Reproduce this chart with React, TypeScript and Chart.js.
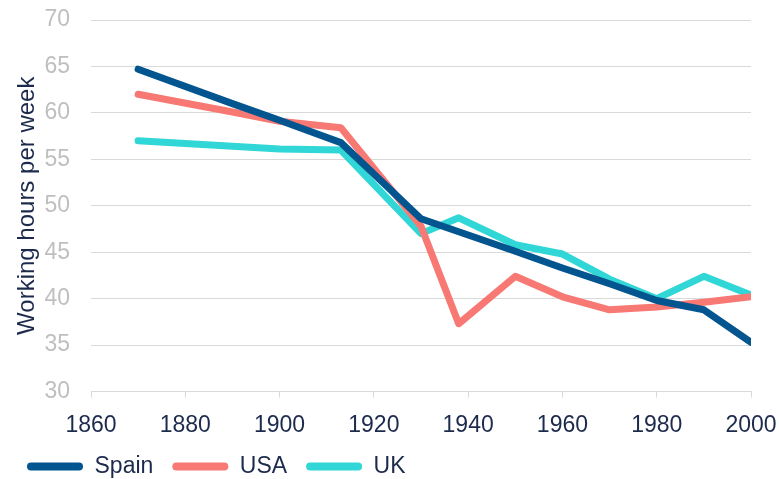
import React, { useEffect, useRef } from "react";
import { Chart, registerables } from "chart.js";

Chart.register(...registerables);

const years = [1870, 1890, 1900, 1913, 1930, 1938, 1950, 1960, 1970, 1980, 1990, 2000];
const spain = [64.7, 61.0, 59.2, 56.8, 48.6, 47.2, 45.1, 43.3, 41.6, 39.8, 38.8, 35.3];
const usa = [62.0, 60.1, 59.1, 58.4, 47.8, 37.3, 42.4, 40.2, 38.8, 39.1, 39.6, 40.2];
const uk = [57.0, 56.4, 56.1, 56.0, 47.0, 48.7, 45.8, 44.8, 42.1, 40.0, 42.4, 40.4];
const seriesNames = ["Spain", "USA", "UK"];
const seriesColors = ["#03558f", "#f87873", "#31d6d6"];

const FONT = "'Liberation Sans', Arial, sans-serif";
const NAVY = "#1c2a4c";

export default function App() {
  const ref = useRef<HTMLCanvasElement | null>(null);
  useEffect(() => {
    if (!ref.current) return;
    const seriesValues = [spain, usa, uk];
    const chart = new Chart(ref.current, {
      type: "line",
      data: {
        datasets: seriesNames.map((name, i) => ({
          label: name,
          data: years.map((y, j) => ({ x: y, y: seriesValues[i][j] })),
          borderColor: seriesColors[i],
          backgroundColor: seriesColors[i],
          borderWidth: 7,
          borderCapStyle: "round" as const,
          borderJoinStyle: "round" as const,
          pointRadius: 0,
          tension: 0,
        })),
      },
      options: {
        animation: false,
        responsive: true,
        maintainAspectRatio: false,
        layout: { padding: { left: 0, right: 28, top: 12, bottom: 0 } },
        plugins: {
          tooltip: { enabled: false },
          legend: {
            position: "bottom",
            align: "start",
            labels: {
              font: { family: FONT, size: 23 },
              color: NAVY,
              boxWidth: 56,
              boxHeight: 8,
              padding: 19,
              useBorderRadius: true,
              borderRadius: 4,
              generateLabels: (c: any) =>
                c.data.datasets.map((d: any, i: number) => ({
                  text: d.label,
                  fillStyle: d.borderColor,
                  strokeStyle: d.borderColor,
                  lineWidth: 0,
                  fontColor: NAVY,
                  hidden: false,
                  datasetIndex: i,
                  borderRadius: 4,
                })),
            },
          },
        },
        scales: {
          x: {
            type: "linear",
            min: 1860,
            max: 2000,
            ticks: {
              stepSize: 20,
              color: NAVY,
              font: { family: FONT, size: 23 },
              padding: 14,
              maxRotation: 0,
              callback: (v: any) => String(v),
            },
            grid: {
              drawOnChartArea: false,
              drawTicks: true,
              tickLength: 6,
              color: "#d9d9d9",
            },
            border: { display: true, color: "#d9d9d9", width: 1 },
            afterFit: (s: any) => {
              s.height = 44.5;
              s.paddingLeft = 0;
              s.paddingRight = 0;
            },
          },
          y: {
            min: 30,
            max: 70,
            ticks: {
              stepSize: 5,
              color: "#bfbfbf",
              font: { family: FONT, size: 23 },
              padding: 21,
            },
            grid: { color: "#d9d9d9", drawTicks: false, lineWidth: 1 },
            border: { display: false },
            title: {
              display: true,
              text: "Working hours per week",
              color: NAVY,
              font: { family: FONT, size: 24 },
              padding: { top: 5, bottom: 0 },
            },
            afterFit: (s: any) => {
              s.width = 83;
              s.paddingTop = 0;
              s.paddingBottom = 0;
            },
          },
        },
      },
    });
    return () => chart.destroy();
  }, []);
  return (
    <div style={{ position: "fixed", left: 8, top: 8, width: 771, height: 480 }}>
      <canvas ref={ref} />
    </div>
  );
}
